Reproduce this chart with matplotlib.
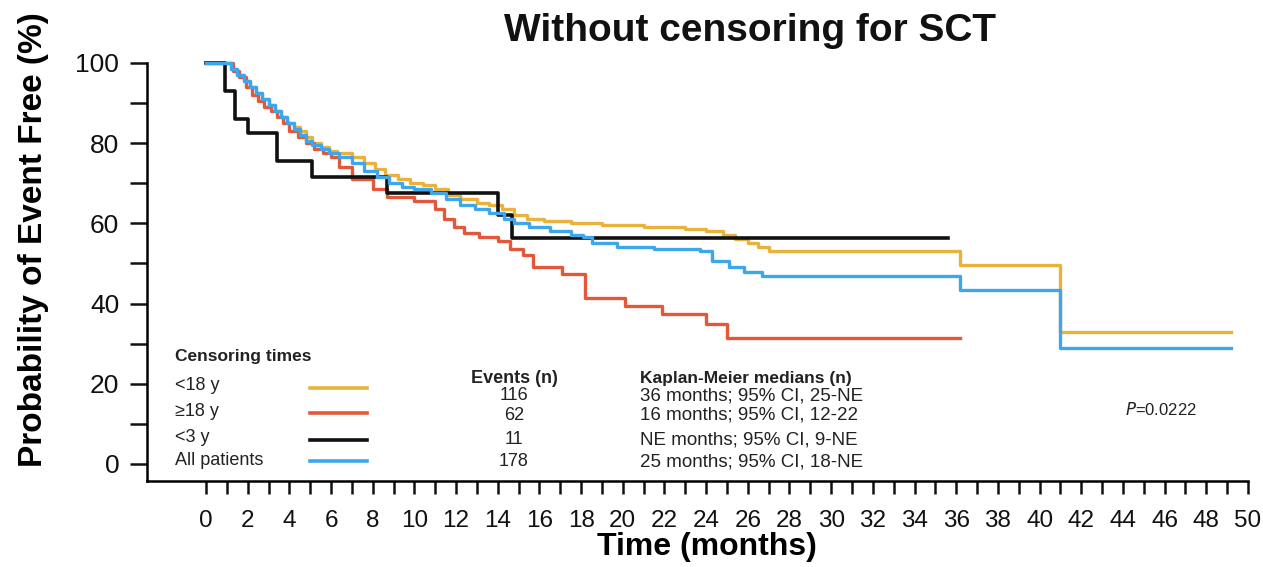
import matplotlib
matplotlib.use("Agg")
import matplotlib.pyplot as plt
from matplotlib.ticker import FixedLocator

plt.rcParams['font.family'] = ['Liberation Sans', 'DejaVu Sans']

# Kaplan-Meier step curves (months, % event free)
t_lt18 = [0, 1.2, 1.5, 1.8, 2.1, 2.4, 2.7, 3.0, 3.3, 3.6, 3.9, 4.2, 4.5, 4.8, 5.1, 5.5, 5.9, 6.3,
          7.0, 7.6, 8.1, 8.6, 9.2, 9.8, 10.4, 11.0, 11.6, 12.2, 13.0, 13.6, 14.2, 14.8, 15.4, 16.2,
          17.5, 19.0, 21.0, 23.0, 24.0, 24.8, 25.4, 26.0, 26.5, 27.0, 36.2, 41.0, 49.2]
s_lt18 = [100, 98.5, 97, 95.5, 94, 92.5, 91, 89.5, 88, 86.5, 85, 84, 83, 81.5, 80, 79, 78, 77.5,
          76.5, 75, 73.5, 72, 71, 70, 69.5, 68.5, 67, 66, 65, 64.5, 63.5, 62, 61, 60.5,
          60, 59.5, 59, 58.5, 58, 57.2, 56, 55, 54, 53, 49.5, 33, 33]

t_ge18 = [0, 1.3, 1.6, 1.9, 2.2, 2.5, 2.8, 3.1, 3.4, 3.7, 4.0, 4.4, 4.8, 5.2, 5.6, 6.0, 6.4, 7.0,
          8.0, 8.7, 10.0, 11.0, 11.4, 11.9, 12.4, 13.1, 14.0, 14.6, 15.2, 15.7, 17.1, 18.2, 20.1,
          21.9, 24.0, 25.0, 36.2]
s_ge18 = [100, 98, 96.5, 94, 92, 90.5, 89, 88, 86.5, 85, 83, 81.5, 80, 78.5, 77.5, 76.5, 74, 71,
          68.5, 66.5, 65.5, 63.5, 61, 59, 57.5, 56.5, 55.5, 53.5, 52, 49, 47.5, 41.5, 39.5,
          37.5, 35, 31.5, 31.5]

t_lt3 = [0, 0.9, 1.4, 2.0, 3.4, 5.1, 8.7, 14.0, 14.7, 35.6]
s_lt3 = [100, 92.9, 86, 82.5, 75.5, 71.5, 67.5, 62, 56.3, 56.3]

t_all = [0, 1.2, 1.5, 1.8, 2.1, 2.4, 2.7, 3.0, 3.3, 3.6, 3.9, 4.2, 4.5, 4.8, 5.1, 5.5, 5.9, 6.4,
         7.0, 7.6, 8.2, 8.8, 9.4, 10.0, 10.8, 11.5, 12.2, 12.9, 13.6, 14.3, 14.8, 15.5, 16.5,
         17.5, 18.1, 18.5, 19.7, 21.5, 23.7, 24.3, 25.1, 25.8, 26.7, 36.2, 41.0, 49.2]
s_all = [100, 98.5, 97, 95.5, 94, 92.5, 91, 89.5, 88, 86.5, 85, 83.5, 82, 80.5, 79.5, 78.5, 77.5, 76.5,
         75, 73, 71.5, 70, 69, 68.5, 67.5, 66, 64.5, 63.5, 62.5, 61, 60, 59, 58,
         57.2, 56.5, 55, 54, 53.5, 53, 50.5, 49, 48, 47, 43.5, 29, 29]

groups = ["<18 y", "\u226518 y", "<3 y", "All patients"]
events = ["116", "62", "11", "178"]
medians = ["36 months; 95% CI, 25-NE", "16 months; 95% CI, 12-22",
           "NE months; 95% CI, 9-NE", "25 months; 95% CI, 18-NE"]
colors = ["#E9B23C", "#E3583B", "#111111", "#3EA6EA"]

fig = plt.figure(figsize=(12.63, 5.67), dpi=100)
ax = fig.add_axes([0.1164, 0.1517, 0.8717, 0.7372])

curves = [(t_lt18, s_lt18), (t_ge18, s_ge18), (t_lt3, s_lt3), (t_all, s_all)]
widths = [2.4, 2.4, 2.6, 2.4]
for (t, s), c, w in zip(curves, colors, widths):
    ax.step(t, s, where='post', color=c, lw=w, clip_on=False)

ax.set_xlim(-2.83, 50)
ax.set_ylim(-4.24, 100)
ax.spines['top'].set_visible(False)
ax.spines['right'].set_visible(False)
for sp in ['left', 'bottom']:
    ax.spines[sp].set_linewidth(1.8)

ax.set_xticks(range(0, 51, 2))
ax.xaxis.set_minor_locator(FixedLocator(range(1, 50, 2)))
ax.set_yticks(range(0, 101, 20))
ax.yaxis.set_minor_locator(FixedLocator(range(10, 100, 20)))
ax.tick_params(axis='both', which='both', direction='out', width=1.8, colors='#111111')
ax.tick_params(axis='x', which='both', length=9, pad=12, labelsize=17.5)
ax.tick_params(axis='y', which='both', length=12, pad=8, labelsize=19)

ax.set_xlabel("Time (months)", fontsize=23, fontweight='bold')
ax.xaxis.set_label_coords(0.509, -0.122)
ax.set_ylabel("Probability of Event Free (%)", fontsize=24, fontweight='bold')
ax.yaxis.set_label_coords(-0.089, 0.577)
fig.text(0.594, 0.945, "Without censoring for SCT", fontsize=28, fontweight='bold',
         ha='center', va='center', color='#111111')

# legend table
tc = '#222222'
ax.text(-1.49, 26.7, "Censoring times", fontsize=12.5, fontweight='bold', va='center', color=tc)
row_lab = [19.5, 13.2, 6.5, 0.75]
row_line = [19.0, 12.7, 6.0, 0.75]
row_val = [17.0, 12.2, 6.0, 0.5]
for i in range(4):
    ax.text(-1.49, row_lab[i], groups[i], fontsize=13, va='center', color=tc)
    ax.plot([4.99, 7.73], [row_line[i], row_line[i]], color=colors[i], lw=2.6)
    ax.text(14.78, row_val[i], events[i], fontsize=13, ha='center', va='center', color=tc)
    ax.text(20.83, row_val[i], medians[i], fontsize=13.5, va='center', color=tc)
ax.text(14.78, 21.4, "Events (n)", fontsize=13, fontweight='bold', ha='center', va='center', color=tc)
ax.text(20.83, 21.4, "Kaplan-Meier medians (n)", fontsize=12.5, fontweight='bold', va='center', color=tc)
ax.text(45.8, 13.5, "$P$=0.0222", fontsize=12, ha='center', va='center', color=tc)

fig.savefig("out.png", dpi=100)
